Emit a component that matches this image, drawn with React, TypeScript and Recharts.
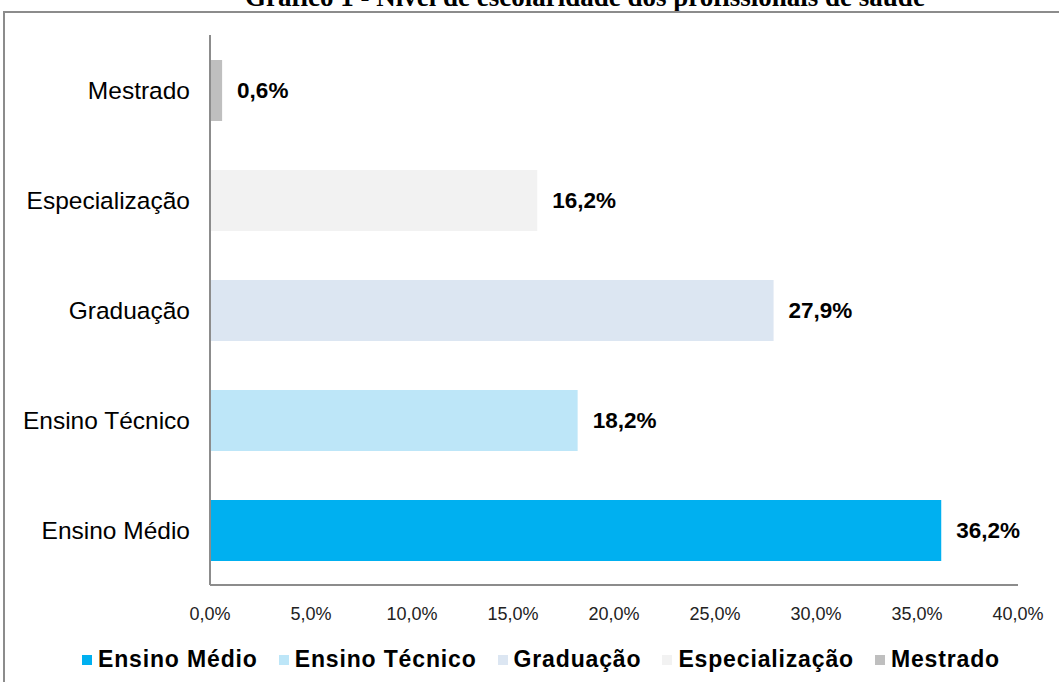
import { BarChart, Bar, XAxis, YAxis, Cell, LabelList, Legend } from "recharts";

const levels = ["Ensino Médio", "Ensino Técnico", "Graduação", "Especialização", "Mestrado"];
const shares = [36.2, 18.2, 27.9, 16.2, 0.6];
const colors = ["#00B0F0", "#BDE6F8", "#DCE6F2", "#F2F2F2", "#BFBFBF"];
const xTicks = [0, 5, 10, 15, 20, 25, 30, 35, 40];

const data = levels.map((name, i) => ({ name, value: shares[i], color: colors[i] }));

const pct = (v: number) => `${v.toFixed(1).replace(".", ",")}%`;
const FONT = "'Liberation Sans', Arial, sans-serif";

function LegendBox() {
  return (
    <div
      style={{
        display: "flex",
        alignItems: "center",
        paddingLeft: 82,
        paddingTop: 3,
        fontFamily: FONT,
        whiteSpace: "nowrap",
        width: 1059,
        boxSizing: "border-box",
      }}
    >
      {data.map((d) => (
        <div key={d.name} style={{ display: "flex", alignItems: "center", marginRight: 21, flexShrink: 0 }}>
          <span style={{ width: 10, height: 10, background: d.color, marginRight: 6, display: "inline-block" }} />
          <span style={{ fontSize: 23, fontWeight: "bold", color: "#000", letterSpacing: 0.85 }}>{d.name}</span>
        </div>
      ))}
    </div>
  );
}

export default function App() {
  return (
    <div style={{ position: "absolute", left: 0, top: 0, width: 1059, height: 682, overflow: "hidden", background: "#fff" }}>
      <div
        style={{
          position: "absolute",
          left: 85,
          width: 1000,
          top: -16,
          lineHeight: "27px",
          textAlign: "center",
          fontFamily: "'Liberation Serif', 'Times New Roman', serif",
          fontWeight: "bold",
          fontSize: 27,
        }}
      >
        Gráfico 1 - Nível de escolaridade dos profissionais de saúde
      </div>
      <div style={{ position: "absolute", left: 3, top: 11, width: 1100, height: 700, border: "2px solid #8c8c8c" }} />
      <div style={{ position: "absolute", left: 0, top: 0 }}>
        <BarChart
          width={1059}
          height={682}
          data={data}
          layout="vertical"
          margin={{ top: 35, right: 41, left: 0, bottom: 9 }}
        >
          <XAxis
            type="number"
            domain={[0, 40]}
            ticks={xTicks}
            tickFormatter={pct}
            height={58}
            tickLine={false}
            tickSize={0}
            tickMargin={22}
            axisLine={{ stroke: "#8c8c8c", strokeWidth: 2 }}
            tick={{ fontSize: 18, fill: "#222", fontFamily: FONT }}
          />
          <YAxis
            type="category"
            dataKey="name"
            reversed
            width={210}
            tickLine={false}
            tickSize={0}
            tickMargin={20}
            axisLine={{ stroke: "#8c8c8c", strokeWidth: 2 }}
            tick={{ fontSize: 24.5, fill: "#000", fontFamily: FONT }}
          />
          <Legend
            verticalAlign="bottom"
            height={30}
            wrapperStyle={{ left: 0, width: 1059 }}
            content={() => <LegendBox />}
          />
          <Bar dataKey="value" barSize={61} isAnimationActive={false}>
            {data.map((d) => (
              <Cell key={d.name} fill={d.color} />
            ))}
            <LabelList
              dataKey="value"
              position="right"
              offset={15}
              formatter={(v: number) => pct(v)}
              style={{ fontSize: 22.5, fontWeight: "bold", fill: "#000", fontFamily: FONT }}
            />
          </Bar>
        </BarChart>
      </div>
    </div>
  );
}
